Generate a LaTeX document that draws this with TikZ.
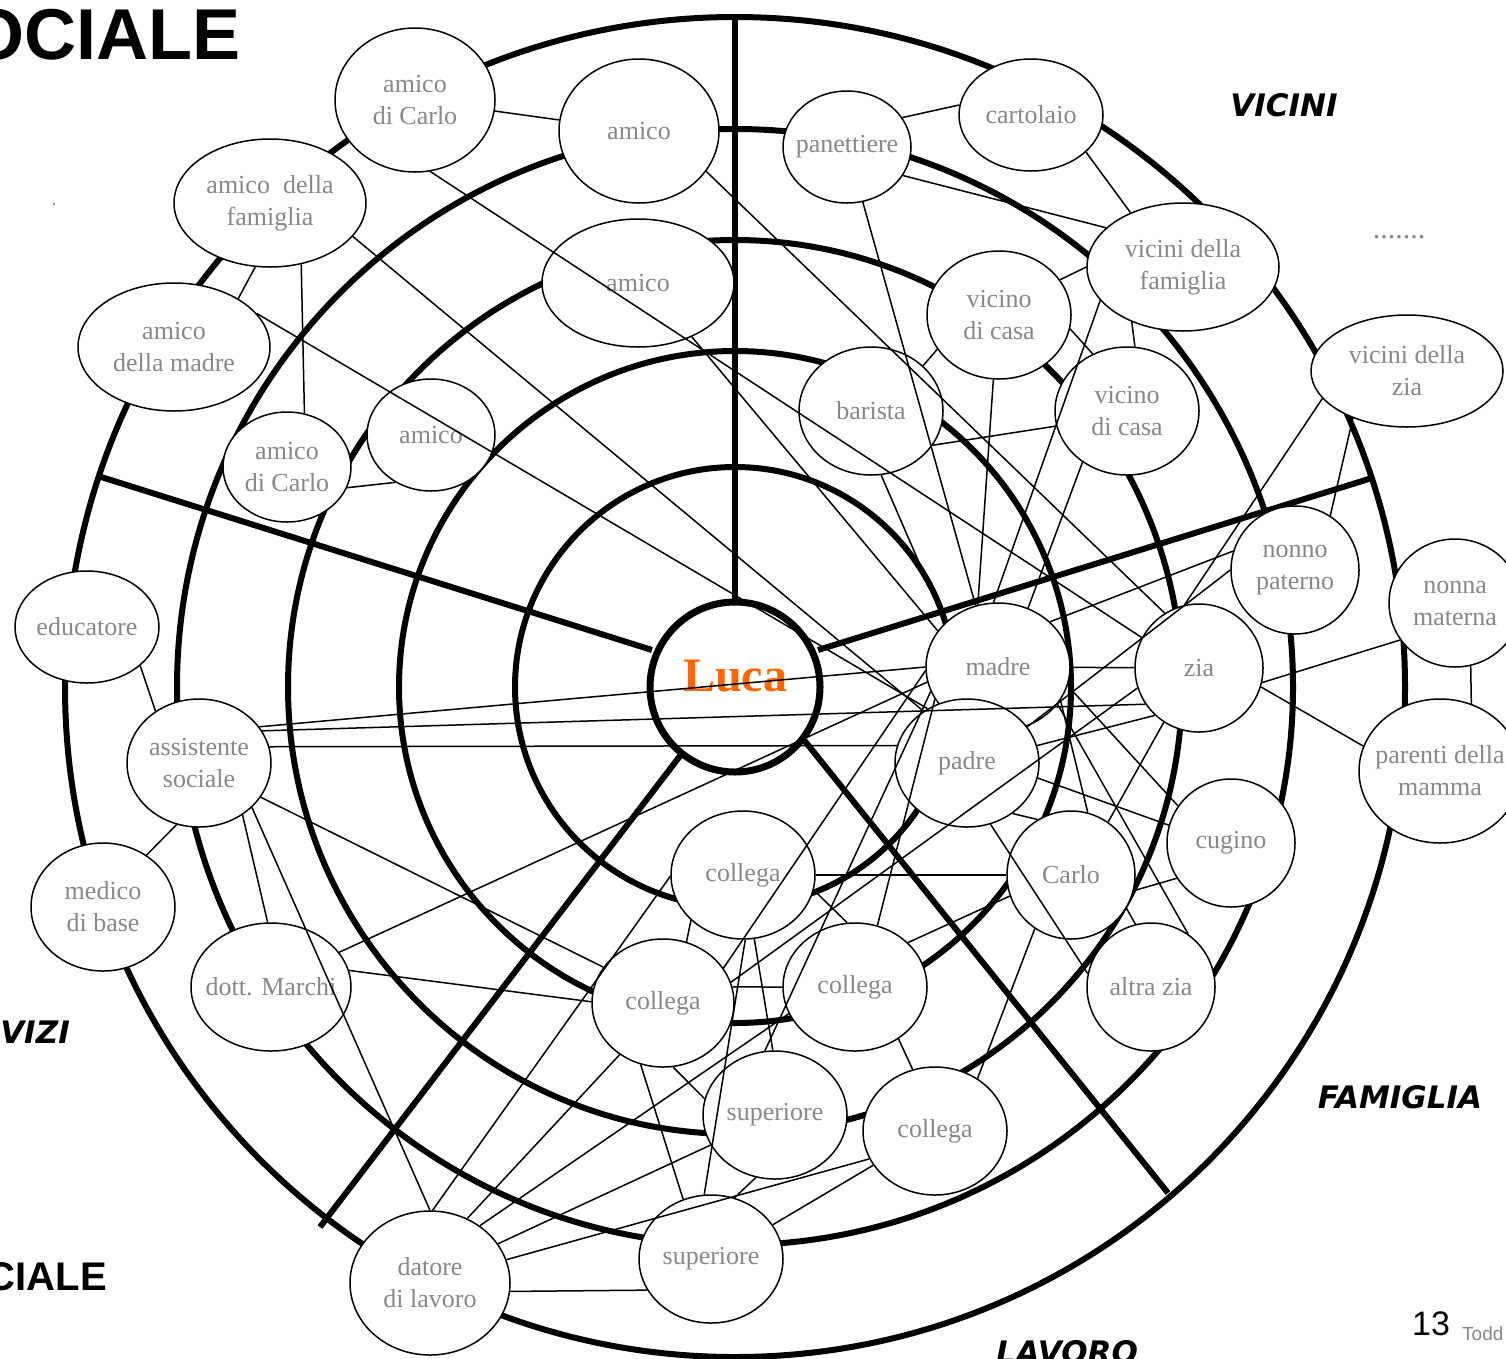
\documentclass[tikz,border=0pt]{standalone}
\usepackage{fontspec}
\setmainfont{Liberation Serif}
\newfontfamily\zonefont{DejaVu Sans}
\newfontfamily\headfont{Liberation Sans}
\usetikzlibrary{shapes.geometric}
\definecolor{nodegray}{RGB}{136,136,136}
\definecolor{lucaorange}{RGB}{255,102,0}

\begin{document}
\begin{tikzpicture}[x=1pt,y=-1pt,
        ring/.style={line width=6pt},
        pers/.style 2 args={ellipse,draw,fill=white,line width=1.5pt,inner xsep=-10pt,inner ysep=0pt,
            minimum width=#1pt,minimum height=#2pt,align=center,text=nodegray,font=\fontsize{26}{32}\selectfont},
        conn/.style={line width=1.5pt},
        zonelabel/.style={inner sep=0pt,font=\zonefont\bfseries\itshape\fontsize{31}{31}\selectfont}]
        \path[use as bounding box,fill=white] (0,0) rectangle (1506,1358);

        % cerchi concentrici
        \coordinate (ctr) at (735,687);
        \draw[ring] (ctr) circle (220);
        \draw[ring] (ctr) circle (336);
        \draw[ring] (ctr) circle (447);
        \draw[ring] (ctr) circle (558);
        \draw[ring] (ctr) circle (670);

        % settori
        \draw[ring] (735,602) -- (735,15);
        \draw[ring] (652,650) -- (98,476);
        \draw[ring] (818,650) -- (1372,478);
        \draw[ring] (683,752) -- (320,1227);
        \draw[ring] (800,735) -- (1168,1193);

        \node[draw,circle,line width=7pt,minimum size=170pt,inner sep=0pt,fill=white,text=lucaorange,
            font=\fontsize{48}{48}\selectfont\bfseries] (luca) at (ctr) {\raisebox{22pt}{Luca}};

        % amici
        \node[pers={160}{144}] (acarloA) at (415,100) {amico\\di Carlo};
        \node[pers={160}{144}] (amicoA) at (639,131) {amico};
        \node[pers={192}{128}] (afam) at (270,203) {amico~ della\\famiglia};
        \node[pers={192}{128}] (amicoB) at (638,283) {amico};
        \node[pers={192}{128}] (amadre) at (174,347) {amico\\della madre};
        \node[pers={128}{112}] (amicoC) at (431,435) {amico};
        \node[pers={128}{110}] (acarloB) at (287,467) {amico\\di Carlo};

        % vicini
        \node[pers={128}{112}] (panet) at (847,147) {panettiere};
        \node[pers={144}{112}] (carto) at (1031,115) {cartolaio};
        \node[pers={192}{128}] (vfam) at (1183,267) {vicini della\\famiglia};
        \node[pers={144}{128}] (vcasaA) at (999,315) {vicino\\di casa};
        \node[pers={192}{112}] (vzia) at (1407,371) {vicini della\\zia};
        \node[pers={144}{128}] (barista) at (871,411) {barista};
        \node[pers={144}{128}] (vcasaB) at (1127,411) {vicino\\di casa};

        % famiglia
        \node[pers={128}{128}] (nonno) at (1295,570) {nonno\\paterno};
        \node[pers={132}{128}] (nonna) at (1455,603) {nonna\\materna};
        \node[pers={144}{128}] (madre) at (998,667) {madre};
        \node[pers={128}{128}] (zia) at (1199,668) {zia};
        \node[pers={144}{128}] (padre) at (967,763) {padre};
        \node[pers={162}{144}] (parenti) at (1440,771) {parenti della\\mamma};
        \node[pers={128}{128}] (cugino) at (1231,843) {cugino};
        \node[pers={128}{128}] (carlo) at (1071,875) {Carlo};
        \node[pers={128}{128}] (altrazia) at (1151,987) {altra zia};

        % servizi
        \node[pers={144}{112}] (educ) at (87,627) {educatore};
        \node[pers={144}{128}] (asoc) at (199,763) {assistente\\sociale};
        \node[pers={144}{128}] (medico) at (103,907) {medico\\di base};
        \node[pers={160}{128}] (marchi) at (271,987) {dott. Marchi};

        % lavoro
        \node[pers={144}{128}] (collA) at (743,875) {collega};
        \node[pers={142}{128}] (collB) at (663,1003) {collega};
        \node[pers={144}{128}] (collC) at (855,987) {collega};
        \node[pers={144}{128}] (supA) at (775,1115) {superiore};
        \node[pers={144}{128}] (collD) at (935,1131) {collega};
        \node[pers={144}{128}] (supB) at (711,1259) {superiore};
        \node[pers={160}{144}] (datore) at (430,1283) {datore\\di lavoro};

        % legami
        \draw[conn] (acarloA) -- (amicoA);
        \draw[conn] (acarloA.-78) -- (zia.152);
        \draw[conn] (amicoA.-31) -- (zia.122);
        \draw[conn] (afam.-22) -- (padre.130);
        \draw[conn] (amadre.22) -- (padre.126);
        \draw[conn] (amicoB.-45) -- (madre.149);
        \draw[conn] (afam.-103) -- (amadre.37);
        \draw[conn] (afam.-63) -- (acarloB.72);
        \draw[conn] (acarloB.-19) -- (amicoC.233);

        \draw[conn] (panet.28) -- (carto.172);
        \draw[conn] (panet.-27) -- (vfam.153);
        \draw[conn] (panet.-74) -- (madre.110);
        \draw[conn] (carto.-34) -- (vfam.134);
        \draw[conn] (vcasaA.30) -- (vfam.180);
        \draw[conn] (vcasaA.-11) -- (vcasaB.121);
        \draw[conn] (vfam.-133) -- (vcasaB.83);
        \draw[conn] (vcasaA.209) -- (barista.41);
        \draw[conn] (vcasaA.-95) -- (madre.108);
        \draw[conn] (barista.-29) -- (vcasaB.192);
        \draw[conn] (barista.-81) -- (madre.140);
        \draw[conn] (vcasaB.-131) -- (madre.63);
        \draw[conn] (vfam.202) -- (madre.94);
        \draw[conn] (vzia.198) -- (zia.103);
        \draw[conn] (vzia.221) -- (nonno.57);

        \draw[conn] (nonno.163) -- (madre.41);
        \draw[conn] (nonno.180) -- (padre.31);
        \draw[conn] (nonna.214) -- (zia.-13);
        \draw[conn] (nonna.-76) -- (parenti.65);
        \draw[conn] (zia.-17) -- (parenti.162);
        \draw[conn] (madre) -- (zia);
        \draw[conn] (padre.14) -- (zia.-133);
        \draw[conn] (padre.-48) -- (carlo.121);
        \draw[conn] (padre.-12) -- (cugino.164);
        \draw[conn] (padre.-69) -- (altrazia.168);
        \draw[conn] (madre.-15) -- (cugino.145);
        \draw[conn] (madre.-28) -- (carlo.75);
        \draw[conn] (madre.-32) -- (altrazia.55);
        \draw[conn] (zia.237) -- (carlo.55);
        \draw[conn] (carlo.-14) -- (cugino.213);
        \draw[conn] (carlo.-31) -- (altrazia.104);

        \draw[conn] (asoc.27) -- (zia.214);
        \draw[conn] (asoc.31) -- (madre.180);
        \draw[conn] (asoc.13) -- (padre.166);
        \draw[conn] (educ.-36) -- (asoc.130);
        \draw[conn] (asoc.250) -- (medico.50);
        \draw[conn] (asoc.-50) -- (marchi.93);
        \draw[conn] (asoc.-40) -- (datore.90);
        \draw[conn] (asoc.-29) -- (collB.149);
        \draw[conn] (marchi.12) -- (collB.179);
        \draw[conn] (marchi.27) -- (madre.192);

        \draw[conn] (datore.88) -- (collA.181);
        \draw[conn] (datore.60) -- (collB.230);
        \draw[conn] (datore.49) -- (collC.202);
        \draw[conn] (datore.30) -- (supA.205);
        \draw[conn] (datore.17) -- (collD.203);
        \draw[conn] (datore.-6) -- (supB.206);
        \draw[conn] (supB.96) -- (collA.-88);
        \draw[conn] (supB.115) -- (collB.250);
        \draw[conn] (supB.69) -- (supA.-107);
        \draw[conn] (supB.29) -- (collD.209);
        \draw[conn] (supA.92) -- (collA.-80);
        \draw[conn] (supA.167) -- (collB.-81);
        \draw[conn] (supA.99) -- (madre.200);
        \draw[conn] (collB.13) -- (collC.180);
        \draw[conn] (collB.69) -- (collA.221);
        \draw[conn] (collB.30) -- (madre.183);
        \draw[conn] (collB.17) -- (zia.198);
        \draw[conn] (collC.70) -- (madre.207);
        \draw[conn] (collC.40) -- (carlo.199);
        \draw[conn] (collC.-50) -- (collD.110);
        \draw[conn] (collD.51) -- (carlo.236);
        \draw[conn] (collA) -- (carlo);
        \draw[conn] (collA.-12) -- (collC.97);

        % scritte
        \node[zonelabel] (vicini) at (1284,105) {VICINI};
        \node[zonelabel] (famiglia) at (1400,1097) {FAMIGLIA};
        \node[zonelabel,anchor=base] (lavoro) at (1067,1363) {LAVORO};
        \node[zonelabel,anchor=east] (servizi) at (70,1032) {SERVIZI};
        \node[anchor=east,inner sep=0pt,font=\headfont\bfseries\fontsize{72}{72}\selectfont] (titolo) at (241,35) {SOCIALE};
        \node[anchor=east,inner sep=0pt,font=\headfont\bfseries\fontsize{40}{40}\selectfont] (rete) at (107,1277) {SOCIALE};
        \node[anchor=base,inner sep=0pt,font=\headfont\fontsize{34}{34}\selectfont] (pagina) at (1431,1335) {13};
        \node[anchor=base west,inner sep=0pt,text=nodegray,font=\headfont\fontsize{19}{19}\selectfont] (autore) at (1462,1340) {Todd};
        \node[anchor=base,inner sep=0pt,text=nodegray,font=\fontsize{30}{30}\selectfont] (puntini) at (1399,238) {.......};
        \node[anchor=base,inner sep=0pt,text=nodegray,font=\fontsize{18}{18}\selectfont] (punto) at (54,205) {.};
\end{tikzpicture}
\end{document}
